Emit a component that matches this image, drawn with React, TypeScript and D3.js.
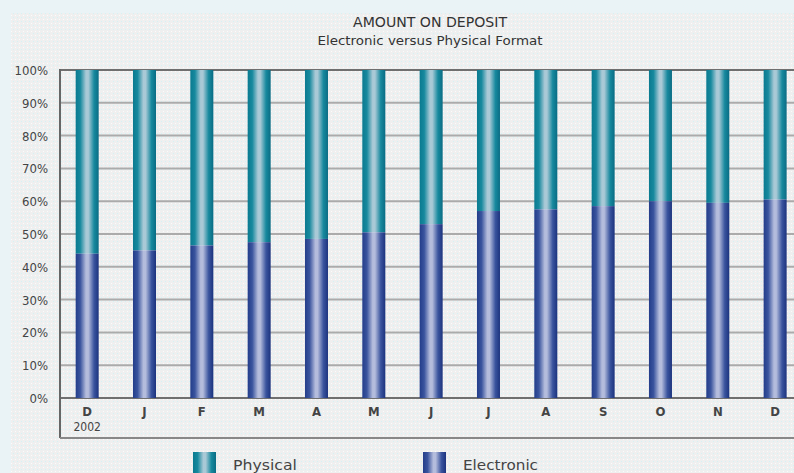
import React from "react";
import * as d3 from "d3";

const months = ["D", "J", "F", "M", "A", "M", "J", "J", "A", "S", "O", "N", "D"];
const electronic = [44, 45, 46.5, 47.5, 48.5, 50.5, 53, 57, 57.5, 58.5, 60, 59.5, 60.5];
const yTicks = [0, 10, 20, 30, 40, 50, 60, 70, 80, 90, 100];
const seriesNames = ["Physical", "Electronic"];

const W = 794;
const H = 473;
const FONT = "'DejaVu Sans Condensed', 'Liberation Sans', sans-serif";

export default function App() {
  const x = d3.scaleBand<number>().domain(d3.range(months.length)).range([58.5, 58.5 + 57.33 * months.length]).padding(0);
  const y = d3.scaleLinear().domain([0, 100]).range([398, 70]);
  const barW = 23;
  const plotLeft = 60;
  const axisBottom = 438;

  return (
    <svg width={W} height={H} style={{ position: "absolute", left: 0, top: 0 }} fontFamily={FONT}>
      <defs>
        <pattern id="dots" width="4" height="4" patternUnits="userSpaceOnUse">
          <rect width="4" height="4" fill="#efefef" />
          <rect x="1" y="1" width="1" height="1" fill="#d3f3f6" />
          <rect x="3" y="3" width="1" height="1" fill="#fbfbfb" />
        </pattern>
        <linearGradient id="gPhys" x1="0" x2="1" y1="0" y2="0">
          <stop offset="0" stopColor="#0a7a90" />
          <stop offset="0.2" stopColor="#17899e" />
          <stop offset="0.45" stopColor="#a9c9d6" />
          <stop offset="0.55" stopColor="#a9c9d6" />
          <stop offset="0.8" stopColor="#17899e" />
          <stop offset="1" stopColor="#0a6c84" />
        </linearGradient>
        <linearGradient id="gElec" x1="0" x2="1" y1="0" y2="0">
          <stop offset="0" stopColor="#233d8a" />
          <stop offset="0.2" stopColor="#3a549e" />
          <stop offset="0.45" stopColor="#b4bcdc" />
          <stop offset="0.55" stopColor="#b4bcdc" />
          <stop offset="0.8" stopColor="#3a549e" />
          <stop offset="1" stopColor="#1c337e" />
        </linearGradient>
      </defs>
      <rect width={W} height={H} fill="#eaf3f6" />
      <rect x={11} y={13} width={W - 11} height={H - 13} fill="url(#dots)" />

      <text x={430} y={27} textAnchor="middle" fontSize={14} fill="#333" textLength={154} lengthAdjust="spacingAndGlyphs">AMOUNT ON DEPOSIT</text>
      <text x={430} y={45} textAnchor="middle" fontSize={12.5} fill="#333" textLength={225} lengthAdjust="spacingAndGlyphs">Electronic versus Physical Format</text>

      {yTicks.map((t) => (
        <g key={t}>
          <line x1={plotLeft} x2={W} y1={y(t)} y2={y(t)} stroke={t === 100 || t === 0 ? "#6f6f6f" : "#ababab"} strokeWidth={2} />
          <text x={48} y={y(t) + 5} textAnchor="end" fontSize={13} fill="#444">{t}%</text>
        </g>
      ))}
      <line x1={plotLeft} x2={plotLeft} y1={69} y2={axisBottom} stroke="#666" strokeWidth={2} />
      <line x1={plotLeft} x2={W} y1={axisBottom} y2={axisBottom} stroke="#888" strokeWidth={2} />

      {months.map((m, i) => {
        const cx = (x(i) as number) + x.bandwidth() / 2;
        return (
          <g key={i}>
            <rect x={cx - barW / 2} y={y(100)} width={barW} height={y(electronic[i]) - y(100)} fill="url(#gPhys)" />
            <rect x={cx - barW / 2} y={y(electronic[i])} width={barW} height={y(0) - y(electronic[i])} fill="url(#gElec)" />
            <text x={cx} y={416} textAnchor="middle" fontSize={13} fontWeight="bold" fill="#444">{m}</text>
            {i === 0 && (
              <text x={cx} y={431} textAnchor="middle" fontSize={12} fill="#444">2002</text>
            )}
          </g>
        );
      })}

      {seriesNames.map((s, i) => {
        const lx = i === 0 ? 193 : 423;
        return (
          <g key={s}>
            <rect x={lx} y={452} width={23} height={24} fill={i === 0 ? "url(#gPhys)" : "url(#gElec)"} />
            <text x={lx + 40} y={470} fontSize={14} fill="#444" textLength={i === 0 ? 64 : 75} lengthAdjust="spacingAndGlyphs">{s}</text>
          </g>
        );
      })}
    </svg>
  );
}
